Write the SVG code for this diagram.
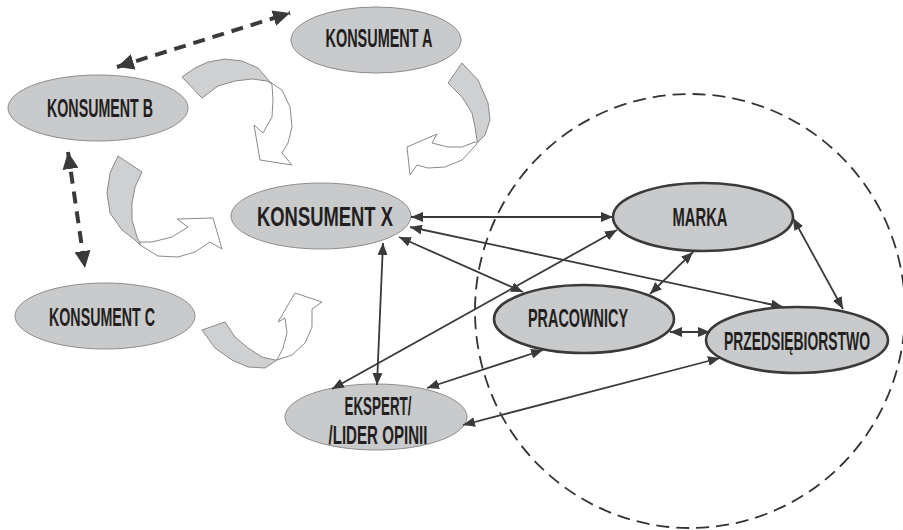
<svg xmlns="http://www.w3.org/2000/svg" width="903" height="530" viewBox="0 0 903 530">
<style>
.bg{fill:#ffffff}
.node{fill:#c9cacc;stroke:#8c8c8c;stroke-width:1}
.node-b{fill:#c9cacc;stroke:#3a3a3a;stroke-width:2.6}
.lbl{font-family:"Liberation Sans Narrow","Liberation Sans",Arial,sans-serif;font-weight:bold;font-size:25px;fill:#231f20;text-anchor:middle}
.lbl-x{font-size:28px}
.conn{stroke:#3a3a3a;stroke-width:1.8;fill:none;marker-start:url(#ah);marker-end:url(#ah)}
.dash{stroke:#3a3a3a;stroke-width:4;fill:none;stroke-dasharray:12 8;marker-start:url(#ahb);marker-end:url(#ahb)}
.circle{fill:none;stroke:#333333;stroke-width:1.8;stroke-dasharray:13 7}
.cg{fill:#cfd0d2;stroke:#8a8a8a;stroke-width:1;stroke-linejoin:round}
.cw{fill:#ffffff;stroke:#8a8a8a;stroke-width:1;stroke-linejoin:round}
</style>
<defs>
<marker id="ah" markerUnits="userSpaceOnUse" markerWidth="13" markerHeight="10" refX="12" refY="5" orient="auto-start-reverse">
<path d="M0,0 L12,5 L0,10 Z" fill="#3a3a3a"/>
</marker>
<marker id="ahb" markerUnits="userSpaceOnUse" markerWidth="18" markerHeight="16" refX="17" refY="8" orient="auto-start-reverse">
<path d="M0,0 L17,8 L0,16 Z" fill="#3a3a3a"/>
</marker>
</defs>
<rect class="bg" x="0" y="0" width="903" height="530"/>

<ellipse class="circle" cx="690" cy="311" rx="215" ry="217"/>

<g id="curved-arrows">
<path class="cg" d="M182,77 L195,68 L208,62 L225,59 L242,61 L258,68 L270,82 L273,84 L267,81 L252,79 L235,81 L218,86 L202,98 Z"/>
<path class="cw" d="M270,82 L282,90 L290,107 L292,127 L288,143 L282,153 L292,165 L260,160 L254,125 L263,133 L272,117 L273,100 L272,85 Z"/>
<path class="cg" d="M462,63 L478,80 L488,103 L490,120 L485,135 L478,142 L477,140 L475,127 L472,113 L462,97 L448,83 Z"/>
<path class="cw" d="M478,142 L475,146 L462,160 L445,167 L428,168 L417,165 L410,175 L407,147 L437,134 L432,143 L448,147 L462,147 L475,142 Z"/>
<path class="cg" d="M118,156 L110,173 L107,193 L110,213 L122,230 L135,240 L140,245 L140,243 L137,237 L132,220 L132,203 L135,187 L142,172 Z"/>
<path class="cw" d="M140,245 L158,256 L178,257 L195,252 L210,242 L222,249 L213,218 L177,219 L188,227 L172,237 L152,242 L140,242 Z"/>
<path class="cg" d="M202,330 L215,348 L232,360 L248,367 L265,368 L277,360 L275,360 L262,357 L248,348 L235,337 L225,322 Z"/>
<path class="cw" d="M277,360 L292,355 L305,343 L312,327 L312,309 L322,302 L295,293 L278,322 L285,318 L287,333 L283,348 L277,360 Z"/>
</g>

<g id="node-konsument-a">
<ellipse class="node" cx="376" cy="40" rx="85" ry="33"/>
<text class="lbl" x="379" y="47" textLength="107" lengthAdjust="spacingAndGlyphs">KONSUMENT A</text>
</g>
<g id="node-konsument-b">
<ellipse class="node" cx="98" cy="108" rx="90" ry="33"/>
<text class="lbl" x="100" y="117" textLength="106" lengthAdjust="spacingAndGlyphs">KONSUMENT B</text>
</g>
<g id="node-konsument-x">
<ellipse class="node" cx="321" cy="216" rx="90" ry="33"/>
<text class="lbl lbl-x" x="325" y="226" textLength="136" lengthAdjust="spacingAndGlyphs">KONSUMENT X</text>
</g>
<g id="node-konsument-c">
<ellipse class="node" cx="105" cy="316" rx="90" ry="33"/>
<text class="lbl" x="102" y="326" textLength="106" lengthAdjust="spacingAndGlyphs">KONSUMENT C</text>
</g>
<g id="node-ekspert">
<ellipse class="node" cx="376" cy="417" rx="91" ry="33"/>
<text class="lbl" x="378" y="415" textLength="67" lengthAdjust="spacingAndGlyphs">EKSPERT/</text>
<text class="lbl" x="378" y="444" textLength="99" lengthAdjust="spacingAndGlyphs">/LIDER OPINII</text>
</g>
<g id="node-marka">
<ellipse class="node-b" cx="703" cy="217" rx="90" ry="34"/>
<text class="lbl" x="700" y="226" textLength="55" lengthAdjust="spacingAndGlyphs">MARKA</text>
</g>
<g id="node-pracownicy">
<ellipse class="node-b" cx="584" cy="319" rx="90" ry="34"/>
<text class="lbl" x="578" y="327" textLength="100" lengthAdjust="spacingAndGlyphs">PRACOWNICY</text>
</g>
<g id="node-przedsiebiorstwo">
<ellipse class="node-b" cx="797" cy="340" rx="91" ry="33"/>
<text class="lbl" x="797" y="350" textLength="146" lengthAdjust="spacingAndGlyphs">PRZEDSIĘBIORSTWO</text>
</g>

<g id="connectors">
<line class="dash" x1="117" y1="67" x2="290" y2="13"/>
<line class="dash" x1="68" y1="152" x2="85" y2="268"/>
<line class="conn" x1="411" y1="217" x2="613" y2="217"/>
<line class="conn" x1="410" y1="227" x2="783" y2="307"/>
<line class="conn" x1="399" y1="237" x2="523" y2="292"/>
<line class="conn" x1="383" y1="243" x2="377" y2="385"/>
<line class="conn" x1="332" y1="389" x2="617" y2="230"/>
<line class="conn" x1="427" y1="388" x2="543" y2="350"/>
<line class="conn" x1="463" y1="425" x2="720" y2="358"/>
<line class="conn" x1="693" y1="252" x2="650" y2="294"/>
<line class="conn" x1="793" y1="218" x2="843" y2="309"/>
<line class="conn" x1="670" y1="332" x2="710" y2="332"/>
</g>
</svg>
